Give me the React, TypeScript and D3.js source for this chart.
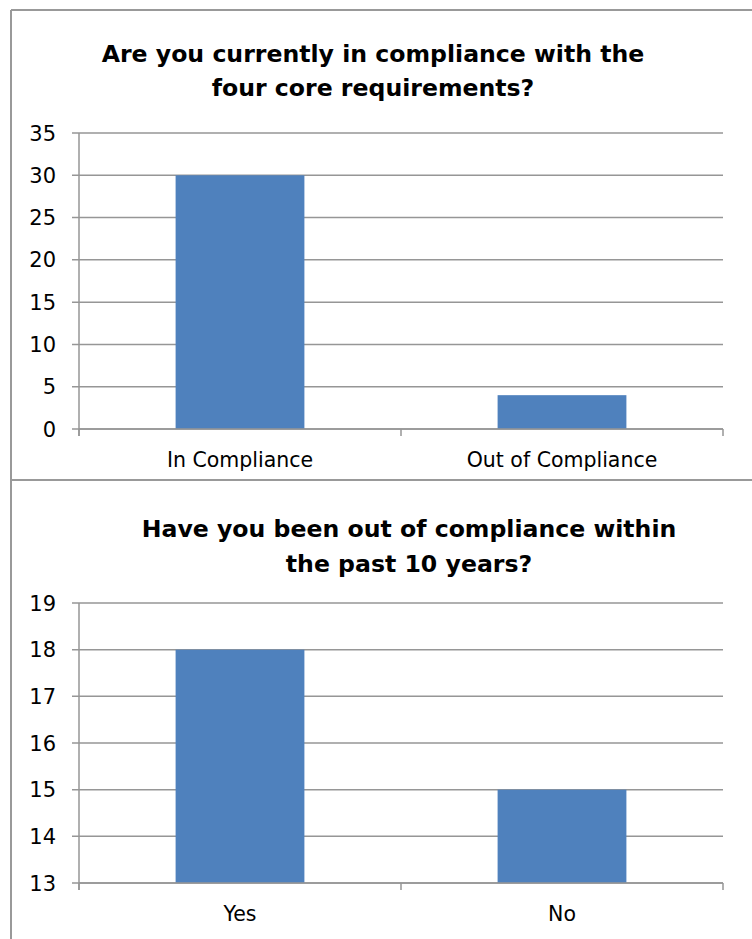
import React from "react";
import * as d3 from "d3";

// Survey question 1
const complianceTitle = ["Are you currently in compliance with the", "four core requirements?"];
const complianceCategories = ["In Compliance", "Out of Compliance"];
const complianceValues = [30, 4];
const complianceTicks = [0, 5, 10, 15, 20, 25, 30, 35];

// Survey question 2
const historyTitle = ["Have you been out of compliance within", "the past 10 years?"];
const historyCategories = ["Yes", "No"];
const historyValues = [18, 15];
const historyTicks = [13, 14, 15, 16, 17, 18, 19];

const GRID = "#969696";
const BAR = "#4F81BD";
const FONT = "'DejaVu Sans', sans-serif";

type PanelProps = {
  title: string[];
  titleX: number;
  titleY: number[];
  categories: string[];
  values: number[];
  ticks: number[];
  top: number;
  bottom: number;
  labelY: number;
};

function BarPanel({ title, titleX, titleY, categories, values, ticks, top, bottom, labelY }: PanelProps) {
  const left = 79;
  const right = 723;
  const x = d3.scaleBand<string>().domain(categories).range([left, right]).paddingInner(0).paddingOuter(0);
  const y = d3
    .scaleLinear()
    .domain([d3.min(ticks) as number, d3.max(ticks) as number])
    .range([bottom, top]);
  const barW = x.bandwidth() * 0.4;
  const boundaries = [left, ...categories.map((c) => (x(c) as number) + x.bandwidth())];

  return (
    <g>
      {title.map((line, i) => (
        <text
          key={line}
          x={titleX}
          y={titleY[i]}
          textAnchor="middle"
          fontFamily={FONT}
          fontWeight="bold"
          fontSize={23.6}
          fill="#000"
        >
          {line}
        </text>
      ))}
      {ticks.map((t) => (
        <g key={t}>
          <line x1={left - 7} x2={right} y1={y(t)} y2={y(t)} stroke={GRID} strokeWidth={1.5} />
          <text x={56} y={y(t) + 7.5} textAnchor="end" fontFamily={FONT} fontSize={21} fill="#000">
            {t}
          </text>
        </g>
      ))}
      {categories.map((c, i) => {
        const cx = (x(c) as number) + x.bandwidth() / 2;
        return (
          <g key={c}>
            <rect x={cx - barW / 2} y={y(values[i])} width={barW} height={y(ticks[0]) - y(values[i])} fill={BAR} />
            <text x={cx} y={labelY} textAnchor="middle" fontFamily={FONT} fontSize={20.5} fill="#000">
              {c}
            </text>
          </g>
        );
      })}
      <line x1={left} x2={left} y1={top} y2={bottom + 7} stroke={GRID} strokeWidth={1.5} />
      <line x1={left} x2={right} y1={bottom} y2={bottom} stroke={GRID} strokeWidth={1.5} />
      {boundaries.map((b) => (
        <line key={b} x1={b} x2={b} y1={bottom} y2={bottom + 7} stroke={GRID} strokeWidth={1.5} />
      ))}
    </g>
  );
}

export default function App() {
  return (
    <svg
      width={752}
      height={939}
      viewBox="0 0 752 939"
      style={{ position: "absolute", left: 0, top: 0, background: "#fff" }}
    >
      <rect x={0} y={0} width={752} height={939} fill="#fff" />
      <line x1={11} x2={752} y1={10} y2={10} stroke="#999" strokeWidth={2} />
      <line x1={11} x2={11} y1={10} y2={939} stroke="#999" strokeWidth={2} />
      <line x1={11} x2={752} y1={480} y2={480} stroke="#999" strokeWidth={2} />
      <BarPanel
        title={complianceTitle}
        titleX={373}
        titleY={[62, 96]}
        categories={complianceCategories}
        values={complianceValues}
        ticks={complianceTicks}
        top={133}
        bottom={429}
        labelY={467}
      />
      <BarPanel
        title={historyTitle}
        titleX={409}
        titleY={[537, 572]}
        categories={historyCategories}
        values={historyValues}
        ticks={historyTicks}
        top={603}
        bottom={883}
        labelY={921}
      />
    </svg>
  );
}
